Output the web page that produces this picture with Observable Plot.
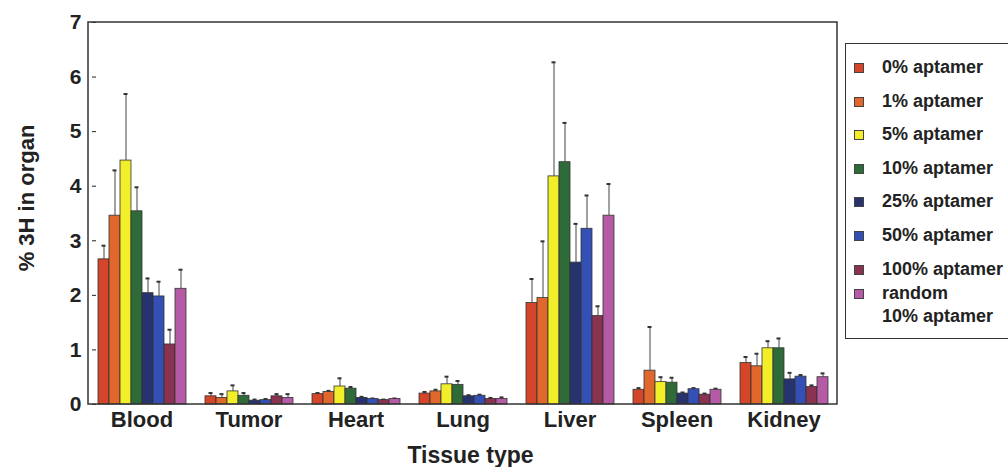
<!DOCTYPE html>
<html><head><meta charset="utf-8">
<script src="https://cdn.jsdelivr.net/npm/d3@7"></script>
<script src="https://cdn.jsdelivr.net/npm/@observablehq/plot@0.6"></script>
<style>
body{margin:0;background:#fff;font-family:"Liberation Sans",Arial,sans-serif;}
#wrap{position:relative;width:1008px;height:467px;overflow:hidden;}
#legend{position:absolute;left:845px;top:43px;width:190px;height:296px;border:1.5px solid #333;box-sizing:border-box;}
.item{position:absolute;left:8px;font-weight:bold;font-size:18px;color:#222;line-height:23px;white-space:nowrap;}
.sw{position:absolute;left:0;top:7px;width:8px;height:8px;border:1px solid #444;}
.lbl{position:absolute;left:28px;top:0;}
</style></head>
<body><div id="wrap"><div id="chart"></div><div id="legend"></div></div>
<script>
const tissues = ["Blood","Tumor","Heart","Lung","Liver","Spleen","Kidney"];
const series = ["0% aptamer","1% aptamer","5% aptamer","10% aptamer","25% aptamer","50% aptamer","100% aptamer","random 10% aptamer"];
const colors = ["#d4452a","#e0682c","#f2ee2a","#2f6b38","#26336e","#3550b5","#8a3350","#b55aa5"];
// values per series, in tissue order
const v0   = [2.66, 0.15, 0.19, 0.20, 1.86, 0.27, 0.76];
const e0   = [0.25, 0.06, 0.02, 0.03, 0.44, 0.03, 0.11];
const v1   = [3.46, 0.12, 0.23, 0.24, 1.95, 0.62, 0.70];
const e1   = [0.83, 0.07, 0.02, 0.03, 1.04, 0.80, 0.23];
const v5   = [4.47, 0.24, 0.33, 0.37, 4.18, 0.41, 1.03];
const e5   = [1.22, 0.11, 0.15, 0.14, 2.09, 0.09, 0.13];
const v10  = [3.54, 0.16, 0.29, 0.36, 4.44, 0.40, 1.03];
const e10  = [0.44, 0.05, 0.03, 0.07, 0.72, 0.09, 0.18];
const v25  = [2.04, 0.07, 0.12, 0.15, 2.60, 0.20, 0.46];
const e25  = [0.27, 0.02, 0.02, 0.02, 0.71, 0.02, 0.12];
const v50  = [1.98, 0.08, 0.10, 0.16, 3.22, 0.28, 0.51];
const e50  = [0.27, 0.02, 0.01, 0.02, 0.61, 0.02, 0.03];
const v100 = [1.10, 0.15, 0.08, 0.10, 1.62, 0.18, 0.32];
const e100 = [0.27, 0.04, 0.01, 0.02, 0.18, 0.02, 0.03];
const vr   = [2.12, 0.12, 0.10, 0.10, 3.46, 0.27, 0.50];
const er   = [0.35, 0.07, 0.01, 0.03, 0.58, 0.02, 0.07];
const yTicks = [0,1,2,3,4,5,6,7];
const yLabel = "% 3H in organ";
const xLabel = "Tissue type";

const vals = [v0,v1,v5,v10,v25,v50,v100,vr];
const errs = [e0,e1,e5,e10,e25,e50,e100,er];
const rows = [];
tissues.forEach((t,i)=>series.forEach((s,j)=>rows.push({tissue:t, series:s, value:vals[j][i], err:errs[j][i]})));

const plot = Plot.plot({
  width: 1008, height: 467,
  marginLeft: 88, marginRight: 171, marginTop: 22, marginBottom: 63,
  style: {fontFamily: "'Liberation Sans', Arial, sans-serif", fontWeight: "bold", fontSize: "21px", color: "#222", background: "transparent"},
  facet: {data: rows, x: "tissue"},
  fx: {domain: tissues, paddingInner: 0.15, paddingOuter: 0.075, axis: "bottom", tickSize: 0, tickPadding: 7, label: null},
  x: {domain: series, padding: 0, axis: null},
  y: {domain: [0,7], ticks: yTicks, tickFormat: "d", tickSize: 4, tickPadding: 11, label: null},
  color: {domain: series, range: colors},
  marks: [
    Plot.ruleX(rows, {x: "series", y1: "value", y2: d => d.value + d.err, stroke: "#444", strokeWidth: 1}),
    Plot.tickY(rows, {x: "series", y: d => d.value + d.err, stroke: "#333", strokeWidth: 2, insetLeft: 3.5, insetRight: 3.5}),
    Plot.barY(rows, {x: "series", y: "value", fill: "series", stroke: "#333", strokeWidth: 0.8})
  ]
});
document.getElementById("chart").appendChild(plot);

const svg = d3.select(plot);
svg.selectAll("g[aria-label='fx-axis'] text, g[aria-label='fx-axis tick label'] text").style("font-size", "22px");

// frame around the whole plot area
const ys = plot.scale("y").range, fxs = plot.scale("fx").range;
const x0 = Math.min(...fxs), x1 = Math.max(...fxs), y0 = Math.min(...ys), y1 = Math.max(...ys);
svg.append("rect")
  .attr("x", x0).attr("y", y0).attr("width", x1 - x0).attr("height", y1 - y0)
  .attr("fill", "none").attr("stroke", "#333").attr("stroke-width", 1.5);

// axis titles
svg.append("text").text(yLabel)
  .attr("transform", `translate(${x0 - 60},${(y0 + y1) / 2 - 15}) rotate(-90)`)
  .attr("text-anchor", "middle").attr("dominant-baseline", "middle")
  .style("font-size", "22px").style("font-weight", "bold").attr("fill", "#222");
svg.append("text").text(xLabel)
  .attr("x", (x0 + x1) / 2 + 8).attr("y", y1 + 53)
  .attr("text-anchor", "middle").attr("dominant-baseline", "middle")
  .style("font-size", "23px").style("font-weight", "bold").attr("fill", "#222");

// legend
const leg = document.getElementById("legend");
const labels = ["0% aptamer","1% aptamer","5% aptamer","10% aptamer","25% aptamer","50% aptamer","100% aptamer","random<br>10% aptamer"];
labels.forEach((l,i)=>{
  const d = document.createElement("div");
  d.className = "item";
  d.style.top = (12 + i*33.6 - (i === 7 ? 9 : 0)) + "px";
  d.innerHTML = `<span class="sw" style="background:${colors[i]}"></span><span class="lbl">${l}</span>`;
  leg.appendChild(d);
});
</script></body></html>
